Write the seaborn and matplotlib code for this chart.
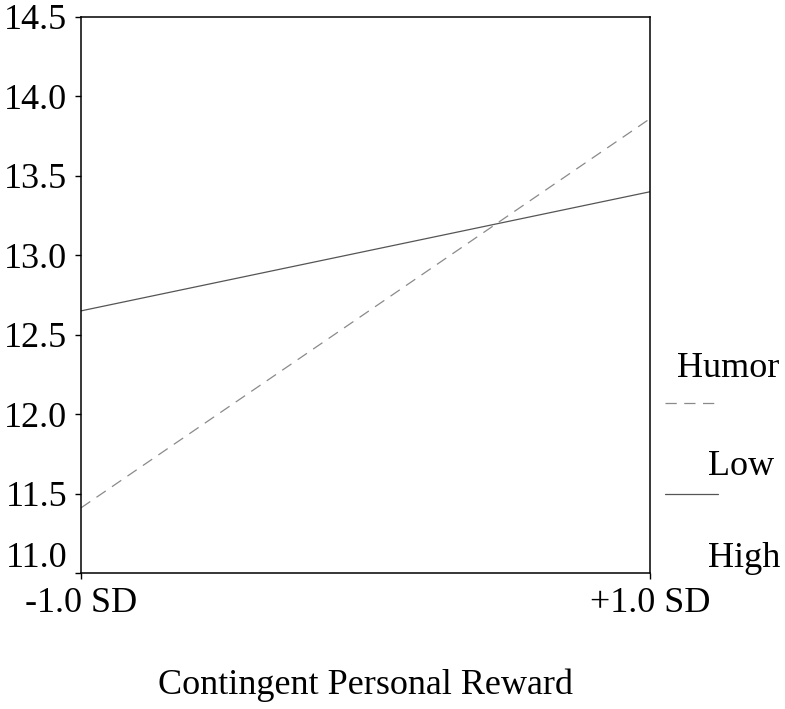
import matplotlib
matplotlib.use("Agg")
import matplotlib.pyplot as plt
import matplotlib.transforms as mtransforms
import seaborn as sns
import pandas as pd
from matplotlib.lines import Line2D

# Data
x_labels = ["-1.0 SD", "+1.0 SD"]
humor_levels = ["Low", "High"]
low_values = [11.41, 13.86]
high_values = [12.65, 13.40]
y_ticks = [11.0, 11.5, 12.0, 12.5, 13.0, 13.5, 14.0, 14.5]

df = pd.DataFrame({
    "x": [0, 1, 0, 1],
    "value": low_values + high_values,
    "Humor": [humor_levels[0]] * 2 + [humor_levels[1]] * 2,
})

sns.set_theme(style="white")
plt.rcParams["font.family"] = ["Liberation Serif", "DejaVu Serif"]
plt.rcParams["text.color"] = "black"
plt.rcParams["axes.labelcolor"] = "black"

FS = 26

fig = plt.figure(figsize=(7.85, 7.09), dpi=100)
ax = fig.add_axes([81 / 785, 136 / 709, (650 - 81) / 785, (573 - 17) / 709])

sns.lineplot(data=df, x="x", y="value", hue="Humor", style="Humor",
             palette={"Low": "#8a8a8a", "High": "#555555"},
             dashes={"Low": (9, 6), "High": ""},
             linewidth=0.9, legend=False, ax=ax)

ax.set_xlim(0, 1)
ax.set_ylim(11.0, 14.5)
ax.set_xticks([0, 1])
ax.set_xticklabels(x_labels)
ax.set_yticks(y_ticks)
ax.set_yticklabels([f"{v:.1f}" for v in y_ticks])
ax.set_xlabel("Contingent Personal Reward", fontsize=FS, color="black")
ax.xaxis.set_label_coords(0.5, -0.172)
ax.set_ylabel("")
ax.tick_params(axis="both", labelsize=FS, direction="out", length=4, width=1,
               colors="black", labelcolor="black",
               left=True, bottom=True, right=False, top=False)
ax.tick_params(axis="y", pad=6)
ax.tick_params(axis="x", pad=6)
for s in ax.spines.values():
    s.set_color("black")
    s.set_linewidth(1.1)

# shift the lowest y tick label up (as in reference)
lbl = ax.get_yticklabels()[0]
lbl.set_transform(lbl.get_transform() +
                  mtransforms.ScaledTranslation(0, 13 / 72, fig.dpi_scale_trans))

# Legend (SPSS style)
fig.text(677 / 785, 1 - 377 / 709, "Humor", fontsize=FS, va="baseline", ha="left", color="black")
fig.text(708 / 785, 1 - 475 / 709, "Low", fontsize=FS, va="baseline", ha="left", color="black")
fig.text(708 / 785, 1 - 567 / 709, "High", fontsize=FS, va="baseline", ha="left", color="black")
fig.add_artist(Line2D([665 / 785, 718 / 785], [1 - 403 / 709, 1 - 403 / 709],
                      transform=fig.transFigure, color="#8a8a8a", lw=0.9,
                      dashes=(9, 6)))
fig.add_artist(Line2D([665 / 785, 718 / 785], [1 - 494 / 709, 1 - 494 / 709],
                      transform=fig.transFigure, color="#555555", lw=0.9))

fig.savefig("out.png", dpi=100)
